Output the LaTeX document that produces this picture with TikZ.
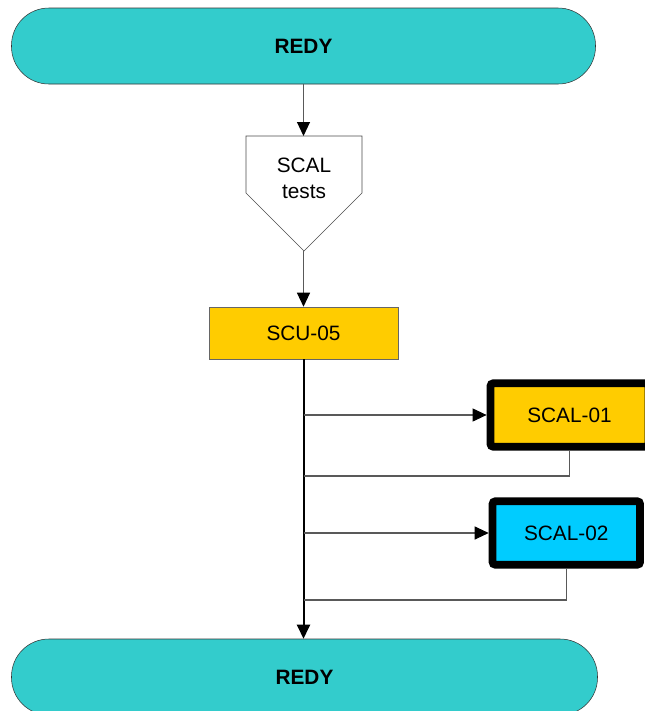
\documentclass[tikz,border=0pt]{standalone}
\usepackage{fontspec}
\setmainfont{Liberation Sans}
\usetikzlibrary{arrows.meta}
\definecolor{termcyan}{HTML}{33CCCC}
\definecolor{boxgold}{HTML}{FFCC00}
\definecolor{boxblue}{HTML}{00CCFF}
\tikzset{
  term/.style={draw=black!80, fill=termcyan, rounded corners=28pt, minimum width=438pt, minimum height=57pt,
    font=\fontsize{15.6}{19.5}\selectfont\bfseries},
  proc/.style={draw=black!60, fill=boxgold, minimum width=141.75pt, minimum height=39pt},
  subbox/.style={draw=black, line width=5.8pt, rounded corners=2pt, minimum height=47.5pt},
  conn/.style={draw=black!65, line width=0.8pt},
  arr/.style={-{Triangle[width=9.75pt,length=10.5pt,black]}},
}

\begin{document}
\begin{tikzpicture}[x=0.75pt, y=-0.75pt, font=\fontsize{15.6}{19.5}\selectfont]
                            \useasboundingbox (0,0) rectangle (644,711);
                            % Nodes
                            \node[term] (redytop) at (303.5,46) {REDY};
                            \node[term, minimum width=439.5pt] (redybot) at (304.5,677) {REDY};
                            \draw[draw=black!70, fill=white] (246,136) -- (362,136) -- (362,193) -- (304,251) -- (246,193) -- cycle;
                            \coordinate (offtop) at (303.5,136);
                            \coordinate (offtip) at (303.5,251);
                            \node[align=center] (offtxt) at (304,178) {SCAL\\tests};
                            \node[proc] (scu) at (303.5,333) {SCU-05};
                            \foreach \i/\x/\y/\w/\c in {1/569.5/415/118.5pt/boxgold, 2/566.3/533/110.6pt/boxblue} {
                              \node[subbox, fill=\c, minimum width=\w] (scal\i) at (\x,\y) {SCAL-0\i};
                            }
                            \coordinate (back1) at (303.5,476);
                            \coordinate (back2) at (303.5,600);
                            % Edges
                            \draw[conn, arr] (redytop) -- (offtop);
                            \draw[conn, arr] (offtip) -- (scu);
                            \draw[line width=1.5pt, arr] (scu.south) -- (scu.south |- redybot.north);
                            \foreach \i in {1,2} {
                              \draw[conn, arr] (scu.south |- scal\i.west) -- (scal\i.west);
                              \draw[conn] (scal\i.south) |- (back\i);
                            }
                        \end{tikzpicture}
\end{document}
